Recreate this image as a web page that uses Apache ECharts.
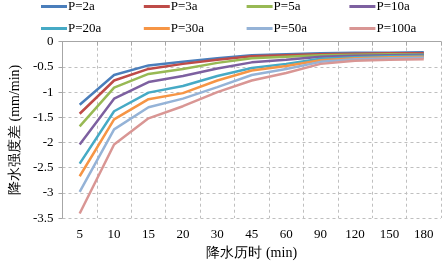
<!DOCTYPE html>
<html>
<head>
<meta charset="utf-8">
<script src="https://cdn.jsdelivr.net/npm/echarts@6/dist/echarts.min.js"></script>
<style>
  html, body { margin: 0; padding: 0; background: #fff; }
  #chart { width: 442px; height: 265px; }
</style>
</head>
<body>
<div id="chart"></div>
<script>
// durations (min)
var durations = ['5', '10', '15', '20', '30', '45', '60', '90', '120', '150', '180']
var seriesNames = ['P=2a', 'P=3a', 'P=5a', 'P=10a', 'P=20a', 'P=30a', 'P=50a', 'P=100a']

var p2 = [-1.25, -0.66, -0.47, -0.40, -0.33, -0.27, -0.25, -0.23, -0.22, -0.22, -0.21]
var p3 = [-1.43, -0.77, -0.54, -0.44, -0.36, -0.29, -0.27, -0.25, -0.24, -0.23, -0.23]
var p5 = [-1.68, -0.91, -0.64, -0.54, -0.42, -0.33, -0.30, -0.27, -0.26, -0.25, -0.25]
var p10 = [-2.04, -1.13, -0.80, -0.68, -0.53, -0.41, -0.36, -0.30, -0.28, -0.27, -0.26]
var p20 = [-2.42, -1.38, -1.01, -0.88, -0.68, -0.52, -0.44, -0.34, -0.31, -0.29, -0.28]
var p30 = [-2.67, -1.54, -1.14, -1.02, -0.77, -0.57, -0.48, -0.37, -0.33, -0.31, -0.30]
var p50 = [-2.98, -1.74, -1.30, -1.13, -0.90, -0.66, -0.54, -0.40, -0.35, -0.33, -0.32]
var p100 = [-3.41, -2.04, -1.52, -1.28, -1.00, -0.77, -0.62, -0.44, -0.38, -0.36, -0.35]

var allValues = [p2, p3, p5, p10, p20, p30, p50, p100]
var colors = ['#4a7ebb', '#be4b48', '#98b954', '#7d60a0', '#46aac5', '#f69545', '#95b3d7', '#d99694']

var font = 'Liberation Serif'

// one legend per item so they sit in a fixed 4x2 grid
var legends = seriesNames.map(function (name, i) {
  return {
    data: [name],
    left: 41 + (i % 4) * 102.8,
    top: i < 4 ? 0 : 22,
    padding: 0,
    itemWidth: 26,
    itemHeight: 14,
    itemGap: 4,
    icon: 'path://M0,6 L26,6 L26,9 L0,9 Z',
    textStyle: { fontFamily: font, fontSize: 13, color: '#000', padding: [0, 0, 0, -4] }
  }
})

var series = seriesNames.map(function (name, i) {
  return {
    name: name,
    type: 'line',
    data: allValues[i],
    symbol: 'none',
    color: colors[i],
    lineStyle: { width: 2.5 }
  }
})

var option = {
  animation: false,
  legend: legends,
  grid: { left: 52, right: 1, top: 41.7, bottom: 45 },
  xAxis: {
    type: 'category',
    data: durations,
    boundaryGap: true,
    name: '降水历时 (min)',
    nameLocation: 'middle',
    nameGap: 26,
    nameTextStyle: { fontFamily: font, fontSize: 14, color: '#000' },
    axisLine: { lineStyle: { color: '#a6a6a6', width: 1 } },
    axisTick: { show: true, length: 4, lineStyle: { color: '#a6a6a6' } },
    axisLabel: { fontFamily: font, fontSize: 13, color: '#000', margin: 10 },
    splitLine: { show: true, lineStyle: { color: '#bfbfbf', type: [3, 3] } }
  },
  yAxis: {
    type: 'value',
    min: -3.5,
    max: 0,
    interval: 0.5,
    name: '降水强度差 (mm/min)',
    nameLocation: 'middle',
    nameGap: 40,
    nameTextStyle: { fontFamily: font, fontSize: 14, color: '#000' },
    axisLine: { show: true, lineStyle: { color: '#a6a6a6', width: 1 } },
    axisTick: { show: true, length: 4, lineStyle: { color: '#a6a6a6' } },
    axisLabel: { fontFamily: font, fontSize: 13, color: '#000', margin: 9 },
    splitLine: { show: true, lineStyle: { color: '#bfbfbf', type: [3, 3] } }
  },
  series: series
}

var myChart = echarts.init(document.getElementById('chart'))
myChart.setOption(option)
</script>
</body>
</html>
